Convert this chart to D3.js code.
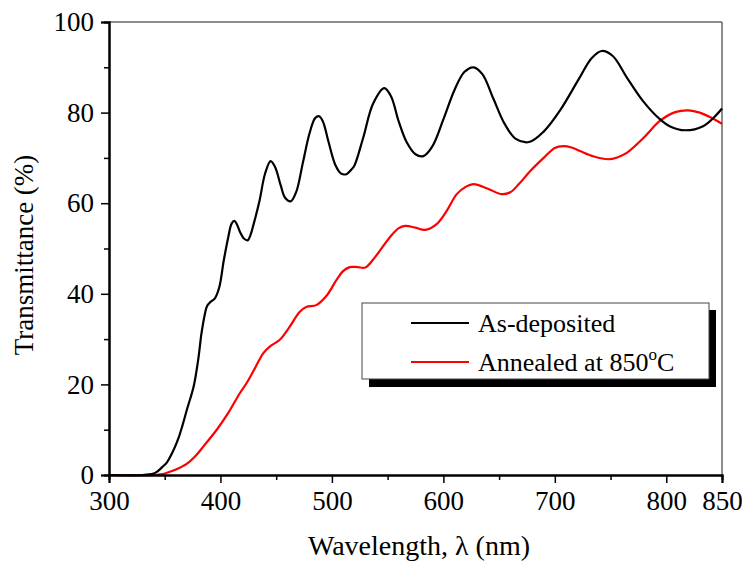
<!DOCTYPE html>
<html><head><meta charset="utf-8">
<script src="https://cdn.jsdelivr.net/npm/d3@7"></script>
<style>body{margin:0;background:#fff}svg{display:block}text{font-family:"Liberation Serif","Times New Roman",serif;fill:#000}</style>
</head><body><svg id="c" width="742" height="564"></svg>
<script>
const asWl = [300,330,340,343,348,352,357,362,366,370,376,380,383,386,388,391,395,399,403,407,410,412.5,415,418,421,424.5,427,430,435,440,445,449,454,458,463,468,474,480,485,488.5,492,497,503,508,513,517,520,528,537,547,553,560,567,575,582,590,600,610,619,627,635,645,655,665,677,690,705,722,733,742,752,764.5,779,794,803,817,833,845,850];
const asT  = [0,0,0.3,0.7,1.8,2.8,5,7.9,11,14.5,19.6,25.4,31.3,35.5,37.3,38.2,39,41.5,47.4,52.5,55.5,56.1,55.2,53.4,52.2,51.8,53,55.6,60.5,66.5,69.3,68,64,61.2,60.4,62.5,69,75.5,78.8,79.2,78,73.5,68.5,66.6,66.4,67.3,68.2,74.4,82,85.4,83.6,78,73.5,70.8,70.4,72.5,78.5,85,89,90,88.5,83,77.5,74.2,73.5,75.8,80.6,87.6,92,93.6,92.5,87.8,82.6,78.6,77,76.1,77,79.5,80.9];
const anWl = [300,340,348,352,360,370,378,385,397,407,417.5,423.5,431,438.5,444.5,453,462,471,477,486,495,504,510,516,523,530,538.7,552,560,565.6,575,583.5,594,603,612,620,627,640,652,660,668,678,690,700,707.6,715,722.6,735,748,756,764.5,780,794,808,820,830,840,850];
const anT  = [0,0,0.2,0.5,1.2,2.5,4.3,6.4,10.1,13.7,18.1,20.3,23.6,26.9,28.4,29.8,32.7,36,37.1,37.5,39.5,43,45,45.9,45.9,45.8,48.1,52.5,54.5,55,54.6,54.1,55.4,58.3,62,63.6,64.2,63.2,62,62.4,64.3,67.1,70,72.2,72.6,72.3,71.5,70.3,69.7,70.1,71.1,74.5,78.1,80.1,80.5,80,78.9,77.5];
const xTicks = [300,400,500,600,700,800,850];
const xMinor = [350,450,550,650,750];
const yTicks = [0,20,40,60,80,100];
const yMinor = [10,30,50,70,90];
const seriesNames = ["As-deposited","Annealed at 850"];
const seriesColors = ["#000000","#ff0000"];

const W=742,H=564,m={l:109,t:22,r:20,b:89};
const svg=d3.select("#c");
const x=d3.scaleLinear().domain([300,850]).range([m.l,W-m.r]);
const y=d3.scaleLinear().domain([0,100]).range([H-m.b,m.t]);

svg.append("line").attr("x1",x(300)).attr("x2",x(850)).attr("y1",y(100)).attr("y2",y(100)).attr("stroke","#666").attr("stroke-width",1.5);
svg.append("line").attr("x1",x(850)).attr("x2",x(850)).attr("y1",y(100)).attr("y2",y(0)).attr("stroke","#666").attr("stroke-width",1.5);

const line=d3.line().x(d=>x(d[0])).y(d=>y(Math.max(0,d[1]))).curve(d3.curveCatmullRom.alpha(0.5));
const dataSets=[d3.zip(asWl,asT),d3.zip(anWl,anT)];
svg.append("path").datum(dataSets[1]).attr("d",line).attr("fill","none").attr("stroke",seriesColors[1]).attr("stroke-width",2.2);
svg.append("path").datum(dataSets[0]).attr("d",line).attr("fill","none").attr("stroke",seriesColors[0]).attr("stroke-width",2.2);

const xa=svg.append("g").attr("transform",`translate(0,${y(0)})`)
 .call(d3.axisBottom(x).tickValues(xTicks).tickSize(8).tickPadding(8).tickFormat(d3.format("d")));
const xm=svg.append("g").attr("transform",`translate(0,${y(0)})`)
 .call(d3.axisBottom(x).tickValues(xMinor).tickSize(5).tickFormat(""));
const ya=svg.append("g").attr("transform",`translate(${x(300)},0)`)
 .call(d3.axisLeft(y).tickValues(yTicks).tickSize(8).tickPadding(7).tickFormat(d3.format("d")));
const ym=svg.append("g").attr("transform",`translate(${x(300)},0)`)
 .call(d3.axisLeft(y).tickValues(yMinor).tickSize(5).tickFormat(""));
[xa,xm,ya,ym].forEach(g=>{g.attr("font-family",null).attr("font-size",null);g.selectAll(".domain").attr("stroke","#000").attr("stroke-width",2);g.selectAll(".tick line").attr("stroke","#000").attr("stroke-width",1.5);});
[xa,ya].forEach(g=>g.selectAll("text").attr("font-size",27).attr("fill","#000"));

svg.append("text").attr("x",419).attr("y",555).attr("text-anchor","middle").attr("font-size",28).text("Wavelength, λ (nm)");
svg.append("text").attr("transform","translate(33,255) rotate(-90)").attr("text-anchor","middle").attr("font-size",27).text("Transmittance (%)");

const lg=svg.append("g");
lg.append("rect").attr("x",369).attr("y",310).attr("width",347).attr("height",77).attr("fill","#000");
lg.append("rect").attr("x",362).attr("y",303).attr("width",347).attr("height",76).attr("fill","#fff").attr("stroke","#444").attr("stroke-width",1);
[0,1].forEach(i=>{
  const ly=323+i*39;
  lg.append("line").attr("x1",411).attr("x2",469).attr("y1",ly).attr("y2",ly).attr("stroke",seriesColors[i]).attr("stroke-width",2);
  const t=lg.append("text").attr("x",478).attr("y",ly+9).attr("font-size",26).text(seriesNames[i]);
  if(i===1){t.append("tspan").attr("dy",-11).attr("font-size",17).text("o");t.append("tspan").attr("dy",11).attr("font-size",26).text("C");}
});
</script></body></html>
